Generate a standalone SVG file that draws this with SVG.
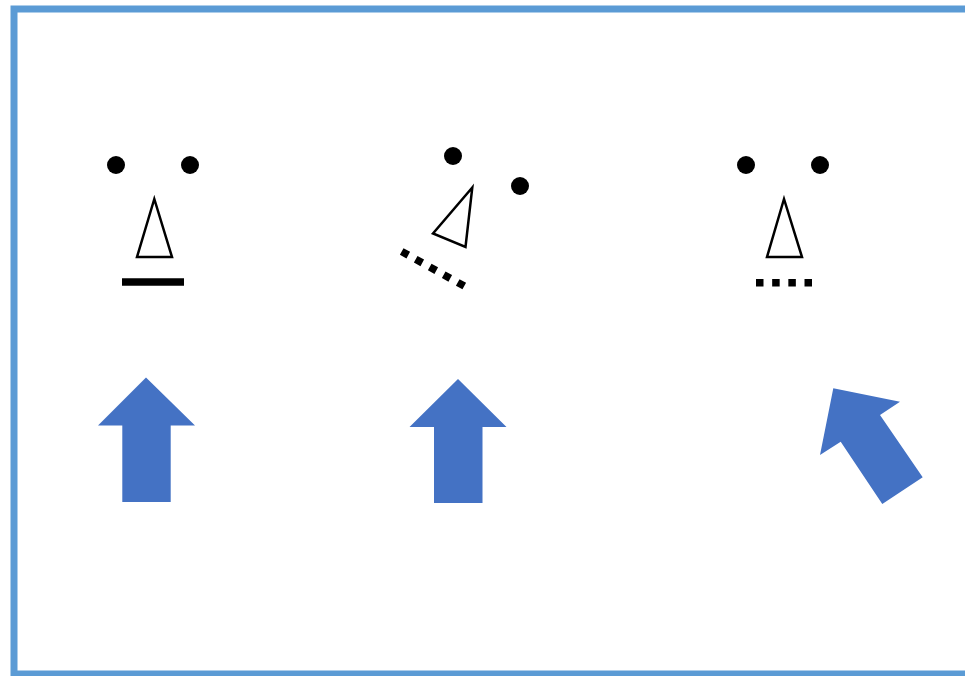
<svg xmlns="http://www.w3.org/2000/svg" width="965" height="676" viewBox="0 0 965 676">
<style>
.eye{fill:#000}
.nose{fill:#fff;stroke:#000;stroke-width:2.5;stroke-linejoin:miter}
.mouth{stroke:#000;stroke-width:7.5;fill:none}
.arrow{fill:#4472C4}
</style>
<rect x="0" y="0" width="965" height="676" fill="#fff"/>
<rect id="frame" x="14" y="9" width="960" height="665" fill="none" stroke="#5B9BD5" stroke-width="7"/>
<g id="face1">
<circle class="eye" cx="116" cy="165" r="9"/>
<circle class="eye" cx="190" cy="165" r="9"/>
<polygon class="nose" points="154.3,199 137,257 172,257"/>
<line class="mouth" x1="122" y1="282" x2="184" y2="282"/>
</g>
<g id="face2">
<circle class="eye" cx="453" cy="156" r="9"/>
<circle class="eye" cx="520" cy="186" r="9"/>
<polygon class="nose" points="472.3,187.5 433,233.5 465.5,247"/>
<line class="mouth" x1="401.7" y1="251.5" x2="464.3" y2="286.1" stroke-dasharray="7.5 8.5"/>
</g>
<g id="face3">
<circle class="eye" cx="746" cy="165" r="9"/>
<circle class="eye" cx="820" cy="165" r="9"/>
<polygon class="nose" points="784,199 767,257 802,257"/>
<line class="mouth" x1="756" y1="282.8" x2="812" y2="282.8" stroke-dasharray="7.5 8.67"/>
</g>
<g id="arrow1">
<polygon class="arrow" points="146,377.5 195,425.5 170.7,425.5 170.7,502 122.3,502 122.3,425.5 98,425.5"/>
</g>
<g id="arrow2">
<polygon class="arrow" points="458,379 506.5,427 482.5,427 482.5,503 434,503 434,427 409.5,427"/>
</g>
<g id="arrow3">
<polygon class="arrow" points="833.3,388.3 900,401.7 880,415 922.7,477.3 882.3,504 840.7,441.7 820,455"/>
</g>
<g id="connectors"/>
</svg>
